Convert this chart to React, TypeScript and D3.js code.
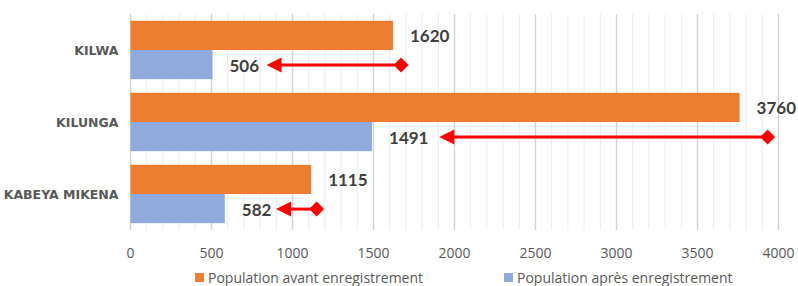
import React from "react";
import * as d3 from "d3";

const categories = ["KILWA", "KILUNGA", "KABEYA MIKENA"];
const avant = [1620, 3760, 1115];
const apres = [506, 1491, 582];
// red arrows drawn over the chart, in axis units: [head, diamond]
const arrows = [
  [840, 1670],
  [1906, 3933],
  [898, 1149],
];
const xTicks = [0, 500, 1000, 1500, 2000, 2500, 3000, 3500, 4000];
const seriesNames = ["Population avant enregistrement", "Population après enregistrement"];
const colors = ["#ED7D31", "#8FAADC"];

const W = 798,
  H = 286;

export default function App() {
  const x = d3.scaleLinear().domain([0, 4000]).range([130.5, 778.5]);
  const y = d3
    .scaleBand()
    .domain(categories)
    .range([14, 230])
    .paddingInner(0.19)
    .paddingOuter(0.095);
  const sub = d3.scaleBand().domain(["0", "1"]).range([0, y.bandwidth()]);
  const minor = d3.range(0, 4001, 100);

  const labelFont = "Lato, 'DejaVu Sans', sans-serif";
  const axisFont = "'Open Sans', sans-serif";

  return (
    <svg
      width={W}
      height={H}
      style={{ position: "absolute", left: 0, top: 0, background: "#fff" }}
    >
      {/* gridlines */}
      <g>
        {minor.map((v) => (
          <line
            key={v}
            x1={x(v)}
            x2={x(v)}
            y1={14}
            y2={230}
            stroke={v % 500 === 0 ? "#d4d4d4" : "#ececec"}
            strokeWidth={v % 500 === 0 ? 1.5 : 1}
          />
        ))}
      </g>

      {/* bars */}
      {categories.map((c, i) => {
        const y0 = y(c)!;
        return (
          <g key={c}>
            <rect
              x={x(0)}
              y={y0 + sub("0")!}
              width={x(avant[i]) - x(0)}
              height={sub.bandwidth()}
              fill={colors[0]}
            />
            <rect
              x={x(0)}
              y={y0 + sub("1")!}
              width={x(apres[i]) - x(0)}
              height={sub.bandwidth()}
              fill={colors[1]}
            />
            <text
              x={x(0) - 12}
              y={y0 + y.bandwidth() / 2 + 4.5}
              textAnchor="end"
              fontFamily="'DejaVu Sans', sans-serif"
              fontWeight="bold"
              fontSize={12.5}
              fill="#595959"
            >
              {c}
            </text>
            <text
              x={x(avant[i]) + 17}
              y={y0 + sub("0")! + sub.bandwidth() / 2 + 7}
              fontFamily={labelFont}
              fontWeight="bold"
              fontSize={17}
              fill="#404040"
            >
              {avant[i]}
            </text>
            <text
              x={x(apres[i]) + 17}
              y={y0 + sub("1")! + sub.bandwidth() / 2 + 7}
              fontFamily={labelFont}
              fontWeight="bold"
              fontSize={17}
              fill="#404040"
            >
              {apres[i]}
            </text>
          </g>
        );
      })}

      {/* red arrows */}
      {categories.map((c, i) => {
        const ay = y(c)! + sub("1")! + sub.bandwidth() / 2 + 0.5;
        const x1 = x(arrows[i][0]);
        const x2 = x(arrows[i][1]);
        const d = 7.5;
        return (
          <g key={"a" + c} fill="#ff0000">
            <line x1={x1 + 12} x2={x2} y1={ay} y2={ay} stroke="#ff0000" strokeWidth={3} />
            <path d={`M${x1},${ay} L${x1 + 15},${ay - 7.5} L${x1 + 15},${ay + 7.5} Z`} />
            <path d={`M${x2 - d},${ay} L${x2},${ay - d} L${x2 + d},${ay} L${x2},${ay + d} Z`} />
          </g>
        );
      })}

      {/* x axis labels */}
      {xTicks.map((v) => (
        <text
          key={v}
          x={x(v)}
          y={258}
          textAnchor="middle"
          fontFamily={axisFont}
          fontSize={14}
          fill="#595959"
        >
          {v}
        </text>
      ))}

      {/* legend */}
      {[195, 504].map((lx, i) => (
        <g key={i}>
          <rect x={lx} y={273} width={9} height={9} fill={colors[i]} />
          <text
            x={lx + 13}
            y={283}
            fontFamily={axisFont}
            fontSize={14}
            fill="#595959"
          >
            {seriesNames[i]}
          </text>
        </g>
      ))}
    </svg>
  );
}
